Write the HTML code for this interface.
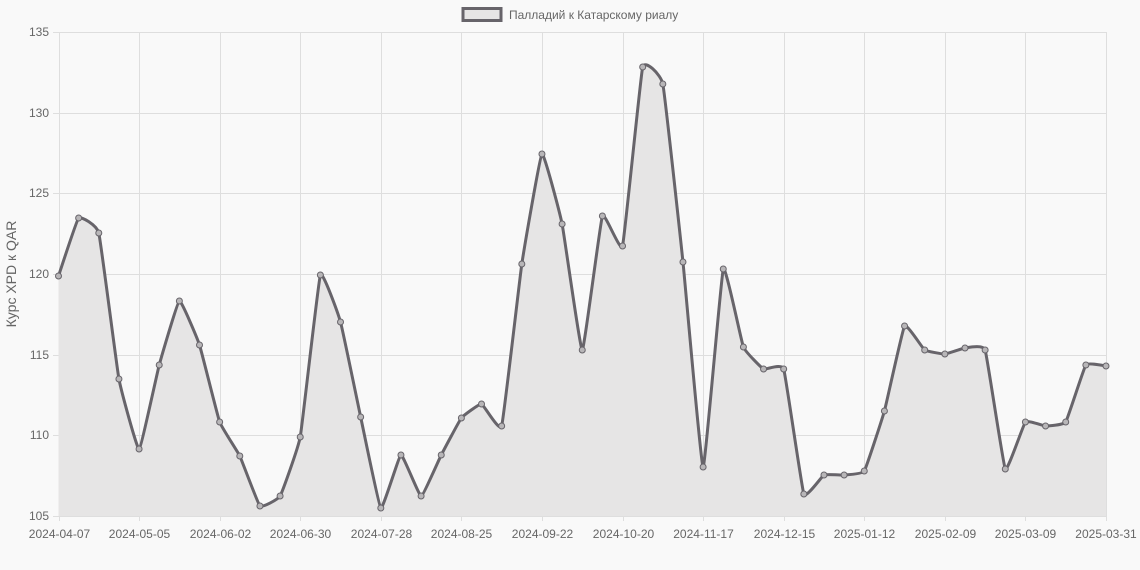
<!DOCTYPE html>
<html><head><meta charset="utf-8"><style>
html,body{margin:0;padding:0;background:#f9f9f9;}
svg{display:block;font-family:"Liberation Sans",sans-serif;}
</style></head><body>
<svg id="s" width="1140" height="570" xmlns="http://www.w3.org/2000/svg">
<rect width="1140" height="570" fill="#f9f9f9"/>
<g id="grid" stroke="#dedede" stroke-width="1"></g>
<path id="area" fill="#e6e5e5" stroke="none"/>
<path id="line" fill="none" stroke="#67646a" stroke-width="3"/>
<g id="pts"></g>
<g id="labels" fill="#666" font-size="12"></g>
<text x="0" y="0" transform="translate(16,274) rotate(-90)" text-anchor="middle" font-size="14" fill="#666">Курс XPD к QAR</text>
<rect x="463" y="8.5" width="38" height="12" fill="#e6e5e5" stroke="#67646a" stroke-width="3"/>
<text x="509" y="19" font-size="12" fill="#666">Палладий к Катарскому риалу</text>
</svg>
<script>
var ys=[276,218,233,379,449,365,301,345,422,456,506,496,437,275,322,417,508,455,496,455,418,404,426,264,154,224,350,216,246,67,84,262,467,269,347,369,369,494,475,475,471,411,326,350,354,348,350,469,422,426,422,365,366];
var x0=58.5,x1=1106,n=ys.length,dx=(x1-x0)/(n-1);
var P=ys.map(function(y,i){return [x0+i*dx,y];});
var g=document.getElementById('grid'),L=document.getElementById('labels'),ns='http://www.w3.org/2000/svg';
function el(p,t,a){var e=document.createElementNS(ns,t);for(var k in a)e.setAttribute(k,a[k]);p.appendChild(e);return e;}
var yv=[135,130,125,120,115,110,105],yp=[32,113,193,274,355,435,516];
yv.forEach(function(v,i){var y=yp[i]+0.5;el(g,'line',{x1:53,x2:1106,y1:y,y2:y});var t=el(L,'text',{x:49,y:yp[i]+4,'text-anchor':'end'});t.textContent=v;});
var dl=['2024-04-07','2024-05-05','2024-06-02','2024-06-30','2024-07-28','2024-08-25','2024-09-22','2024-10-20','2024-11-17','2024-12-15','2025-01-12','2025-02-09','2025-03-09'];
dl.forEach(function(d,i){var x=Math.round(x0+i*4*dx)+0.5;el(g,'line',{x1:x,x2:x,y1:32,y2:521});var t=el(L,'text',{x:x,y:538,'text-anchor':'middle'});t.textContent=d;});
el(g,'line',{x1:1106.5,x2:1106.5,y1:32,y2:521});
var t=el(L,'text',{x:1106,y:538,'text-anchor':'middle'});t.textContent='2025-03-31';
var tn=0.05,d='M'+P[0][0]+','+P[0][1];
for(var i=0;i<n-1;i++){var p0=P[Math.max(i-1,0)],p1=P[i],p2=P[i+1],p3=P[Math.min(i+2,n-1)];
var c1=[p1[0]+(p2[0]-p0[0])*tn,p1[1]+(p2[1]-p0[1])*tn],c2=[p2[0]-(p3[0]-p1[0])*tn,p2[1]-(p3[1]-p1[1])*tn];
d+=' C'+c1[0]+','+c1[1]+' '+c2[0]+','+c2[1]+' '+p2[0]+','+p2[1];}
document.getElementById('line').setAttribute('d',d);
document.getElementById('area').setAttribute('d',d+' L'+x1+',516 L'+x0+',516 Z');
var pg=document.getElementById('pts');
P.forEach(function(p){el(pg,'circle',{cx:p[0],cy:p[1],r:3,fill:'#b8b6b8',stroke:'#67646a','stroke-width':1});});
</script>
</body></html>
